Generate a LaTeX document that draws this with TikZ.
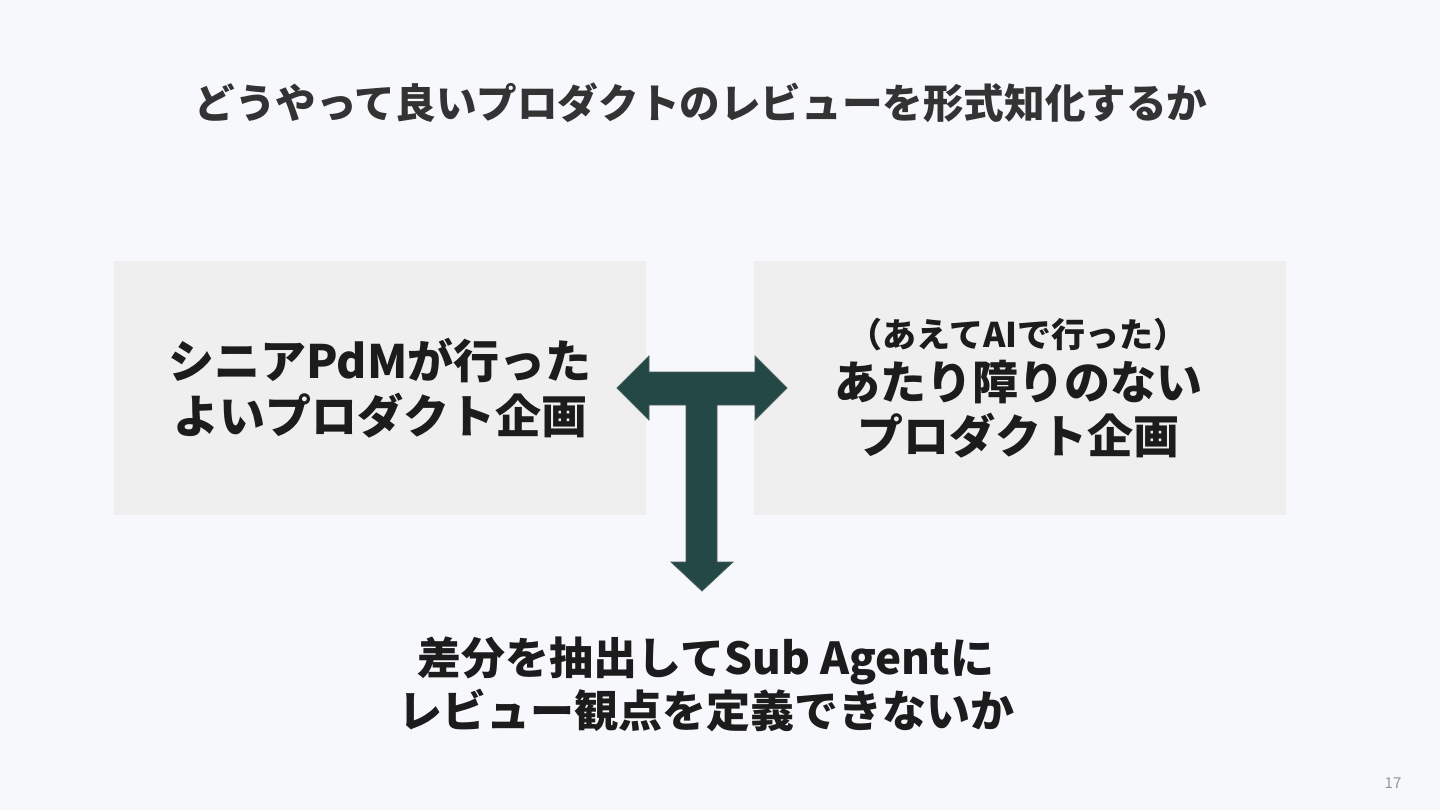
\documentclass[tikz,border=0pt]{standalone}
\usepackage{fontspec}
\setmainfont{Noto Sans CJK JP}
\definecolor{bg}{HTML}{F7F8FB}
\definecolor{boxfill}{HTML}{EFEFEF}
\definecolor{arrowfill}{HTML}{244846}
\definecolor{arrowline}{HTML}{4A5E5C}
\definecolor{titlecol}{HTML}{333333}
\definecolor{textcol}{HTML}{1C1C1C}
\definecolor{pagecol}{HTML}{8A9C98}
\tikzset{
  panel/.style={fill=boxfill, draw=none, minimum width=532pt, minimum height=254pt, inner sep=0pt, text=textcol, align=center, font=\bfseries\fontsize{46}{55}\selectfont},
  bigarrow/.style={fill=arrowfill, draw=arrowline, line width=0.8pt, line join=miter}
}
\begin{document}
\begin{tikzpicture}[x=1pt,y=-1pt]
\fill[bg] (0,0) rectangle (1440,810);
\useasboundingbox (0,0) rectangle (1440,810);

\node[text=titlecol, font=\bfseries\fontsize{40.6}{48}\selectfont] (title) at (701,103) {どうやって良いプロダクトのレビューを形式知化するか};

\node[panel] (left) at (380,388) {シニアPdMが行った\\よいプロダクト企画};
\node[panel] (right) at (1020,388) {};
\node[text=textcol, align=center, font=\bfseries\fontsize{46}{54}\selectfont] (righttext) at (1018,388)
  {{\fontsize{34}{40}\selectfont （あえてAIで行った）}\\[-2pt]あたり障りのない\\プロダクト企画};

\draw[bigarrow] (617,388) -- (649,356) -- (649,372) -- (755,372) -- (755,356) -- (787,388)
  -- (755,420) -- (755,405) -- (717,405) -- (717,562) -- (733,562) -- (702,591)
  -- (671,562) -- (686,562) -- (686,405) -- (649,405) -- (649,420) -- cycle;

\node[text=textcol, align=center, font=\bfseries\fontsize{44}{53}\selectfont] (bottom) at (706,684)
  {差分を抽出してSub Agentに\\レビュー観点を定義できないか};

\node[text=pagecol, font=\fontsize{15}{17}\selectfont] (page) at (1393,783) {17};
\end{tikzpicture}
\end{document}
